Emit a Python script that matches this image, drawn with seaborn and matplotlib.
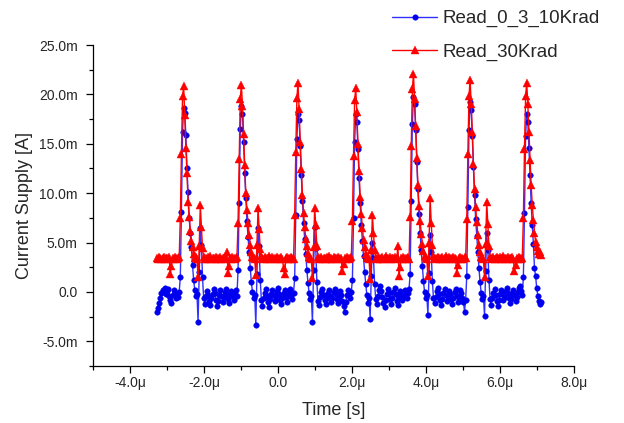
import numpy as np
import seaborn as sns
import matplotlib.pyplot as plt
from matplotlib.ticker import MultipleLocator, FuncFormatter

# sampling of the scope trace (time in microseconds)
t_start = -3.27
t_step = 0.03

# Read_30Krad, current in mA, one list per pulse period
red_pre = [3.4, 3.3, 3.5, 3.4, 3.3, 3.4, 3.5, 3.3, 3.4, 3.4, 3.3, 3.5, 1.8, 2.6, 3.4, 3.3, 3.5, 3.4, 3.3, 3.4, 3.5]
red_c1 = [7.5, 14.0, 19.8, 20.8, 17.9, 14.6, 12.0, 9.1, 7.6, 6.2, 5.2, 4.5, 3.8, 3.4, 3.5, 3.3, 1.5, 4.6, 8.8, 6.6, 4.4, 3.5, 3.3,
          3.4, 3.3, 3.5, 3.4, 3.6, 3.3, 3.4, 3.4, 3.3, 3.5, 3.4, 3.3, 3.4, 3.5, 3.3, 3.4, 3.4, 3.5, 3.3,
          4.0, 1.9, 2.6, 3.4, 3.3, 3.5, 3.4, 3.3, 3.4, 3.5]
red_c2 = [7.0, 13.5, 19.5, 21.0, 18.8, 16.0, 12.8, 10.0, 8.3, 7.0, 5.8, 4.8, 4.0, 3.5, 3.4, 3.3, 1.7, 4.8, 8.5, 6.4, 4.3, 3.6, 3.4,
          3.3, 3.5, 3.4, 3.3, 3.4, 3.6, 3.4, 3.3, 3.5, 3.4, 3.3, 3.4, 3.5, 3.4, 3.3, 3.4, 3.5, 3.3,
          2.4, 1.8, 3.4, 3.5, 3.3, 3.4, 3.3, 3.5, 3.4, 3.3]
red_c3 = [7.8, 14.2, 19.6, 21.2, 18.5, 15.2, 12.4, 9.8, 8.0, 6.6, 5.4, 4.6, 3.9, 3.5, 3.4, 3.3, 1.4, 4.5, 8.5, 6.8, 4.6, 3.5, 3.3,
          3.4, 3.5, 3.3, 3.4, 3.4, 3.3, 3.5, 3.4, 3.6, 3.3, 3.4, 3.3, 3.5, 3.4, 3.4, 3.3, 3.5, 3.4, 3.3,
          3.4, 2.1, 2.8, 3.4, 3.3, 3.5, 3.4, 3.3, 3.4, 3.5]
red_c4 = [7.2, 13.8, 19.4, 20.6, 18.2, 15.0, 12.2, 9.6, 7.9, 6.5, 5.3, 4.5, 3.8, 3.4, 3.5, 3.3, 1.3, 4.2, 7.8, 6.0, 4.2, 3.4, 3.3,
          3.5, 3.4, 3.3, 3.4, 3.5, 3.3, 3.4, 3.6, 3.4, 3.3, 3.4, 3.5, 3.3, 3.4, 3.4, 3.5, 3.3, 3.4,
          4.6, 1.6, 2.5, 3.4, 3.3, 3.5, 3.4, 3.3, 3.4, 3.5, 3.3]
red_c5 = [7.6, 14.8, 20.5, 22.1, 19.5, 16.8, 13.6, 10.8, 8.7, 7.2, 5.9, 4.9, 4.1, 3.6, 3.4, 3.3, 1.6, 5.0, 9.5, 7.0, 4.8, 3.6, 3.4,
          3.3, 3.4, 3.5, 3.4, 3.3, 3.4, 3.5, 3.3, 3.4, 3.6, 3.4, 3.3, 3.5, 3.4, 3.3, 3.4, 3.5, 3.4,
          3.3, 1.9, 2.7, 3.4, 3.5, 3.3, 3.4, 3.3, 3.5, 3.4]
red_c6 = [7.4, 14.0, 19.8, 21.5, 19.0, 16.2, 13.0, 10.4, 8.6, 7.1, 5.8, 4.8, 4.0, 3.5, 3.4, 3.3, 1.5, 4.9, 9.1, 6.9, 4.6, 3.5, 3.3,
          3.4, 3.5, 3.3, 3.4, 3.5, 3.4, 3.3, 3.5, 3.4, 3.3, 3.6, 3.4, 3.3, 3.4, 3.5, 3.3, 3.4, 3.4,
          3.5, 3.3, 2.1, 2.7, 3.4, 3.3, 3.5, 3.4, 3.3, 3.4]
red_c7 = [7.5, 14.5, 19.8, 21.2, 19.0, 16.2, 13.4, 10.8, 8.8, 7.3, 6.0, 5.1, 4.5, 4.1, 3.8, 4.0, 3.7]

# Read_0_3_10Krad, current in mA
blue_pre = [-2.0, -1.6, -1.1, -0.6, -0.1, 0.2, 0.0, 0.4, -0.2, 0.1, 0.3, -0.4, -0.8, -1.1, -0.3, 0.2, -0.1, -0.6, -0.2, -0.5, 0.0]
blue_c1 = [1.5, 8.1, 16.2, 18.6, 18.1, 15.9, 12.5, 10.1, 7.5, 6.0, 4.5, 2.7, 1.2, 0.2, -0.4, -0.2, -3.0, 2.0, 6.5, 4.8, 1.5, -0.6, -1.2,
           -0.4, 0.1, -0.3, -0.9, -1.3, -0.6, -0.2, 0.3, -0.1, -0.8, -1.4, -0.9, -0.3, 0.2, -0.4,
           -1.0, -0.5, 0.0, 0.3, -0.2, -0.7, -1.1, -0.4, 0.1, -0.3, -0.8, -0.2, 0.2, -0.4]
blue_c2 = [2.2, 9.0, 16.5, 18.8, 18.0, 15.2, 12.0, 9.5, 7.2, 5.6, 4.0, 2.4, 1.0, 0.0, -0.6, -0.3, -3.3, 1.8, 6.5, 4.6, 1.2, -0.8, -1.4,
           -0.6, -0.1, 0.3, -0.4, -1.0, -1.5, -0.7, -0.2, 0.2, -0.3, -0.9, -0.5, 0.1, 0.4, -0.2,
           -0.8, -1.2, -0.6, -0.1, 0.2, -0.5, -1.0, -0.4, 0.0, 0.3, -0.3, -0.7, -0.1]
blue_c3 = [1.4, 7.8, 15.5, 18.0, 17.4, 14.8, 11.8, 9.2, 7.0, 5.4, 3.8, 2.2, 0.9, -0.1, -0.7, -0.4, -3.0, 2.2, 6.6, 4.4, 1.0, -0.9, -1.3,
           -0.5, 0.0, 0.3, -0.3, -0.8, -1.2, -0.6, -0.1, 0.2, -0.4, -1.0, -0.6, 0.0, 0.3, -0.2,
           -0.7, -1.1, -0.5, 0.1, -0.3, -0.9, -1.4, -2.0, -1.0, -0.3, 0.2, -0.2, -0.6, 0.0]
blue_c4 = [1.2, 7.5, 15.2, 18.0, 17.2, 14.5, 11.5, 9.0, 6.8, 5.2, 3.6, 2.0, 0.8, -0.3, -1.1, -0.6, -2.7, 1.6, 5.0, 3.4, 0.8, -0.7, -1.2,
           -0.4, 0.2, 0.6, 0.1, -0.5, -1.1, -1.5, -0.8, -0.2, 0.3, -0.1, -0.7, -1.2, -0.6, 0.0,
           0.4, -0.2, -0.9, -1.3, -0.5, 0.1, -0.3, -0.8, -0.4, 0.2, -0.2, -0.6, -0.1, 0.3]
blue_c5 = [1.8, 9.2, 17.0, 19.7, 19.0, 16.4, 13.2, 10.4, 7.9, 6.0, 4.2, 2.6, 1.1, 0.0, -0.6, -0.3, -2.3, 1.9, 5.8, 4.0, 1.1, -0.6, -1.1,
           -0.5, 0.1, 0.4, -0.2, -0.8, -1.3, -0.7, -0.1, 0.3, -0.3, -0.9, -0.4, 0.1, -0.2, -0.7,
           -1.2, -0.6, 0.0, 0.3, -0.4, -1.0, -0.5, 0.2, -0.1, -0.6, -1.0, -2.0, -0.8]
blue_c6 = [1.6, 8.6, 16.4, 19.2, 18.4, 15.8, 12.6, 9.8, 7.4, 5.7, 4.0, 2.4, 1.0, -0.1, -0.7, -0.4, -2.4, 2.1, 6.0, 4.2, 1.2, -0.7, -1.3,
           -0.6, -0.1, 0.3, -0.3, -0.9, -1.4, -0.8, -0.2, 0.2, -0.2, -0.8, -0.5, 0.1, 0.4, -0.1,
           -0.6, -1.1, -0.7, -0.2, 0.2, -0.3, -0.9, -0.5, 0.0, 0.4, 0.6, 0.1, -0.3]
blue_c7 = [1.5, 8.0, 15.8, 18.0, 17.2, 14.6, 11.8, 9.0, 6.8, 4.9, 2.4, 1.6, 0.4, -0.4, -0.9, -1.2, -1.0]

red = np.concatenate([red_pre, red_c1, red_c2, red_c3, red_c4, red_c5, red_c6, red_c7])
blue = np.concatenate([blue_pre, blue_c1, blue_c2, blue_c3, blue_c4, blue_c5, blue_c6, blue_c7])
t = t_start + t_step * np.arange(len(red))

sns.set_style("ticks")
plt.rcParams['font.family'] = ['Liberation Sans', 'DejaVu Sans']

fig = plt.figure(figsize=(6.24, 4.23), dpi=100)
ax = fig.add_axes([0.149, 0.1348, 0.771, 0.7588])

sns.lineplot(x=t, y=blue, ax=ax, color='#3030ff', lw=1.0, marker='o', markersize=4.0,
             markerfacecolor='#0000ee', markeredgecolor='#0000ee', markeredgewidth=0.3,
             label='Read_0_3_10Krad', estimator=None, sort=False)
sns.lineplot(x=t, y=red, ax=ax, color='#ff0000', lw=1.0, marker='^', markersize=5.2,
             markerfacecolor='#ff0000', markeredgecolor='#ff0000', markeredgewidth=0.3,
             label='Read_30Krad', estimator=None, sort=False)

ax.set_xlim(-5, 8)
ax.set_ylim(-7.5, 25)
ax.xaxis.set_major_locator(MultipleLocator(2))
ax.xaxis.set_minor_locator(MultipleLocator(1))
ax.yaxis.set_major_locator(MultipleLocator(5))
ax.yaxis.set_minor_locator(MultipleLocator(2.5))


def fmt_unit(suffix):
    def f(v, pos):
        if abs(v) < 1e-9:
            return "0.0"
        return f"{v:.1f}{suffix}"
    return FuncFormatter(f)


ax.xaxis.set_major_formatter(fmt_unit('μ'))
ax.yaxis.set_major_formatter(fmt_unit('m'))

sns.despine(ax=ax)
for s in ['left', 'bottom']:
    ax.spines[s].set_color('black')
    ax.spines[s].set_linewidth(0.9)
ax.tick_params(which='major', direction='out', length=5, width=0.9, labelsize=10, color='black')
ax.tick_params(which='minor', direction='out', length=3, width=0.9, color='black')
ax.tick_params(axis='x', pad=2)
ax.tick_params(axis='y', pad=6)

ax.set_xlabel("Time [s]", fontsize=13, labelpad=9)
ax.set_ylabel("Current Supply [A]", fontsize=13, labelpad=4)

ax.legend(loc='upper left', bbox_to_anchor=(392 / 624, 1 - 10 / 423), bbox_transform=fig.transFigure,
          frameon=False, fontsize=13.5, handlelength=2.4, handletextpad=0.3, labelspacing=0.85,
          borderpad=0, borderaxespad=0)

fig.savefig("out.png", dpi=100)
